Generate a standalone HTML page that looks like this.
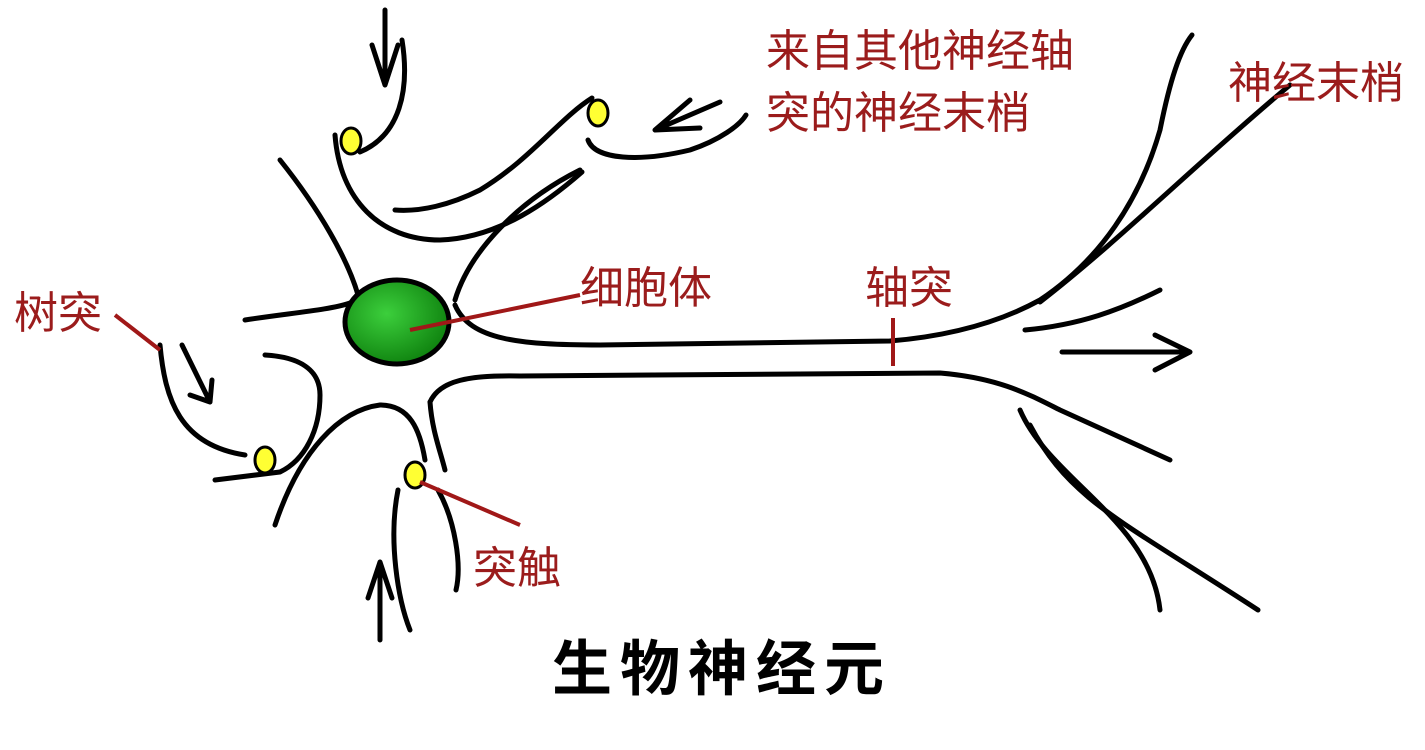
<!DOCTYPE html>
<html><head><meta charset="utf-8"><style>
body{margin:0;background:#fff;}
svg{display:block}
.l{fill:none;stroke:#000;stroke-width:5;stroke-linecap:round;stroke-linejoin:round}
.r{fill:none;stroke:#a01818;stroke-width:4}
.t{font-family:"Liberation Sans","Noto Sans CJK SC",sans-serif;fill:#9b1c1c;font-size:44px}
</style></head><body>
<svg width="1425" height="750" viewBox="0 0 1425 750">
<defs><radialGradient id="g" cx="0.4" cy="0.4" r="0.7"><stop offset="0" stop-color="#3ccf3c"/><stop offset="1" stop-color="#0a7a0a"/></radialGradient></defs>
<g>
<path class="l" d="M385,10 L385,85 M372,45 L385,85 L398,45"/>
<path class="l" d="M402,40 C410,90 400,135 360,152"/>
<path class="l" d="M335,135 C340,200 380,240 440,240 C500,238 550,200 582,172"/>
<path class="l" d="M280,160 C320,210 348,260 358,295"/>
<path class="l" d="M245,320 C290,313 330,310 350,303"/>
<path class="l" d="M592,98 C560,118 530,160 480,190 C450,205 420,212 395,210" />
<path class="l" d="M588,140 C595,160 640,162 690,150 C720,140 740,125 746,115"/>
<path class="l" d="M720,102 L655,130 M690,100 L655,130 L700,128"/>
<path class="l" d="M580,170 C520,200 470,250 455,300"/>
<path class="l" d="M455,305 C470,340 520,345 600,345 L890,341 C950,336 1000,322 1040,300 C1100,260 1140,200 1160,130 C1170,80 1180,50 1192,35"/>
<path class="l" d="M1040,302 C1120,240 1200,160 1290,85"/>
<path class="l" d="M1025,330 C1080,325 1120,310 1160,290"/>
<path class="l" d="M1062,352 L1190,352 M1155,335 L1190,352 L1155,370"/>
<path class="l" d="M430,402 C440,380 470,375 520,376 L940,373 C1000,378 1030,395 1060,410 L1170,460"/>
<path class="l" d="M1020,410 C1050,480 1150,520 1160,610"/>
<path class="l" d="M1030,425 C1070,500 1120,520 1258,610"/>
<path class="l" d="M160,345 C165,400 180,445 245,455"/>
<path class="l" d="M215,480 L280,472 C305,460 320,430 320,395 C320,370 300,357 265,355"/>
<path class="l" d="M182,345 L210,402 M190,395 L210,402 L212,380"/>
<path class="l" d="M275,525 C300,450 340,410 380,405 C410,405 420,430 425,460"/>
<path class="l" d="M430,402 C432,430 440,450 445,470"/>
<path class="l" d="M398,490 C388,540 398,600 410,630"/>
<path class="l" d="M438,490 C455,520 462,565 456,590"/>
<path class="l" d="M380,640 L380,562 M368,598 L380,562 L392,598"/>
</g>
<ellipse cx="397" cy="322" rx="52" ry="42" fill="url(#g)" stroke="#000" stroke-width="5"/>
<g fill="#ffff33" stroke="#000" stroke-width="3">
<ellipse cx="351" cy="141" rx="10" ry="13"/>
<ellipse cx="598" cy="113" rx="10" ry="13"/>
<ellipse cx="265" cy="460" rx="10" ry="13"/>
<ellipse cx="415" cy="475" rx="10" ry="13"/>
</g>
<g>
<path class="r" d="M115,315 L160,350"/>
<path class="r" d="M410,330 L580,295"/>
<path class="r" d="M893,318 L893,366"/>
<path class="r" d="M420,482 L520,525"/>
</g>
<text class="t" x="766" y="66">来自其他神经轴</text>
<text class="t" x="766" y="128">突的神经末梢</text>
<text class="t" x="1228" y="98">神经末梢</text>
<text class="t" x="14" y="328">树突</text>
<text class="t" x="580" y="303">细胞体</text>
<text class="t" x="865" y="303">轴突</text>
<text class="t" x="473" y="583">突触</text>
<text x="552" y="690" font-family="'Liberation Sans','Noto Sans CJK SC',sans-serif" font-size="60" font-weight="bold" letter-spacing="8" fill="#000">生物神经元</text>
</svg>
</body></html>
